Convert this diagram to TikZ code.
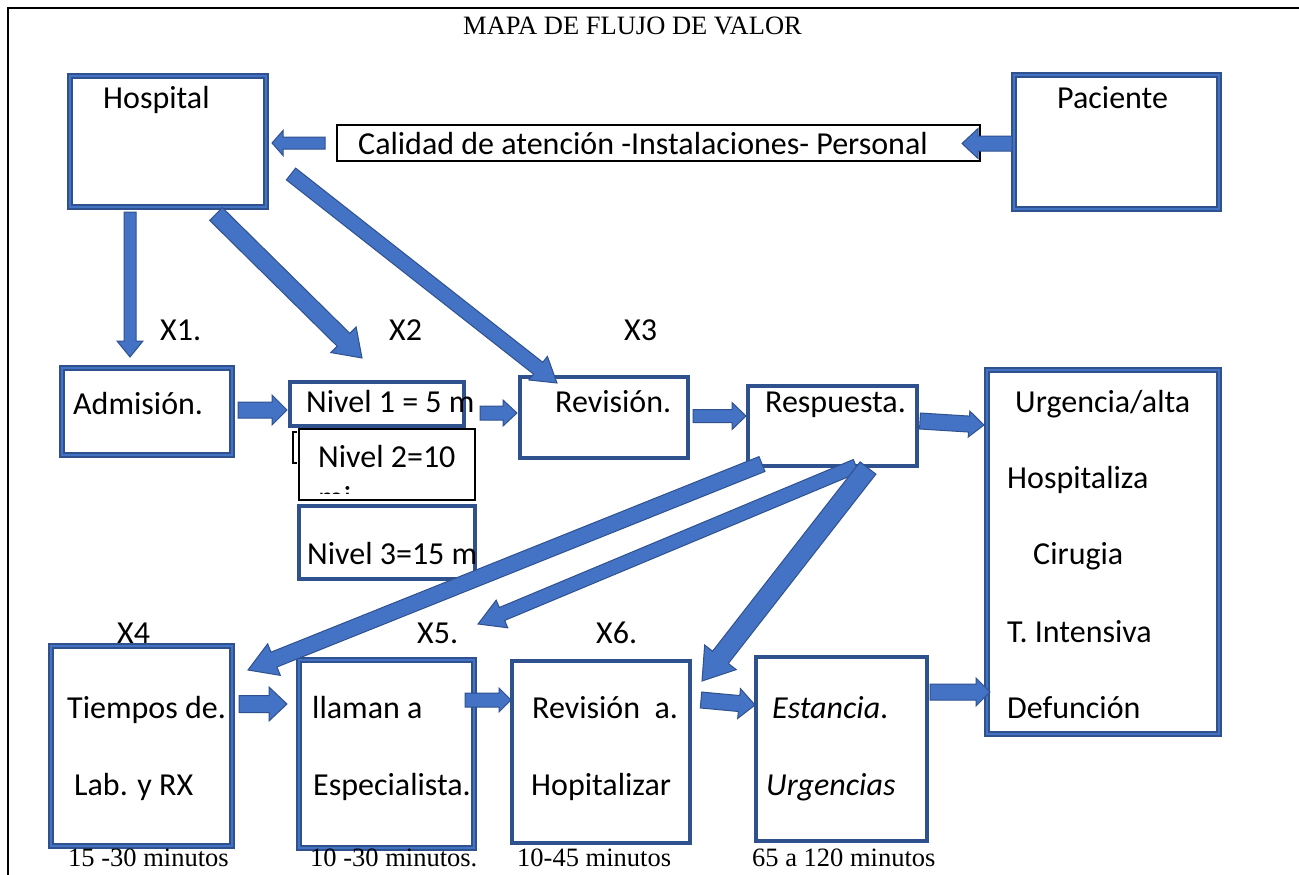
\documentclass[tikz,border=0pt]{standalone}
\usepackage{fontspec}
\setmainfont{Carlito}
\newfontfamily\tnr{Liberation Serif}
\usetikzlibrary{calc}
\definecolor{bdark}{HTML}{2F528F}
\definecolor{blight}{HTML}{4472C4}
\tikzset{
 dblbox/.style={draw=bdark, double=blight, line width=1.6pt, double distance=2.6pt, fill=white, inner sep=0pt, outer sep=0pt},
 solbox/.style={draw=bdark, line width=3.6pt, fill=white, inner sep=0pt, outer sep=0pt},
 blkbox/.style={draw=black, line width=1.5pt, fill=white, inner sep=0pt, outer sep=0pt},
 txt/.style={anchor=base west, inner sep=0pt, font=\fontsize{32}{38}\selectfont},
 ser/.style={anchor=base west, inner sep=0pt, font=\tnr\fontsize{26.5}{30}\selectfont},
 barrow/.style={draw=bdark, fill=blight, line width=1pt, line join=miter},
}
\newcommand\bx[6]{\node[#2, minimum width={(#5-#3-4)*1pt}, minimum height={(#6-#4-4)*1pt}] (#1) at ({(#3+#5)/2},{(#4+#6)/2}) {};}
\newcommand\blkarrow[5]{%
  \path ($(#2)!#5!(#1)$) coordinate (hb);
  \draw[barrow] ($(#1)!#3!90:(#2)$) -- ($(hb)!#3!90:(#2)$) -- ($(hb)!#4!90:(#2)$) -- (#2) -- ($(hb)!#4!-90:(#2)$) -- ($(hb)!#3!-90:(#2)$) -- ($(#1)!#3!-90:(#2)$) -- cycle;
}
\begin{document}
\begin{tikzpicture}[x=1pt,y=-1pt]
\useasboundingbox (0,0) rectangle (1299,875);
\fill[white] (0,0) rectangle (1299,875);
\draw[line width=2pt] (8,875) -- (8,8) -- (1299,8);
\node[ser] (title) at (463,35) {MAPA DE FLUJO DE VALOR};

% boxes
\bx{hosp}{dblbox}{68}{74}{268}{209}
\bx{pac}{dblbox}{1012}{73}{1221}{211}
\bx{cal}{blkbox}{335}{123}{982}{163}
\bx{adm}{dblbox}{60}{366}{234}{457}
\bx{niv1}{solbox}{288}{380}{466}{428}
\draw[line width=1.3pt] (297,432) -- (293,432) -- (293,463) -- (297,463);
\bx{niv2}{blkbox}{297}{427}{477}{502}
\bx{niv3}{solbox}{297}{504}{477}{581}
\bx{rev}{solbox}{518}{375}{690}{460}
\bx{resp}{solbox}{746}{384}{919}{468}
\bx{urg}{dblbox}{985}{368}{1221}{736}
\bx{tiem}{dblbox}{49}{644}{234}{848}
\bx{llam}{dblbox}{297}{658}{476}{850}
\bx{reva}{solbox}{510}{659}{692}{845}
\bx{est}{solbox}{754}{655}{929}{843}

% arrow end points
\coordinate (a1t) at (130,212);  \coordinate (a1h) at (130,357);
\coordinate (a2t) at (216,214);  \coordinate (a2h) at (362,358);
\coordinate (a3t) at (291,174);  \coordinate (a3h) at (557,383);
\coordinate (cht) at (325,143);  \coordinate (chh) at (272,143);
\coordinate (pct) at (1012,143.5); \coordinate (pch) at (962,143.5);
\coordinate (a4t) at (238,410);  \coordinate (a4h) at (287,410);
\coordinate (a5t) at (480,413);  \coordinate (a5h) at (517,413);
\coordinate (a6t) at (693,416);  \coordinate (a6h) at (746,416);
\coordinate (a7t) at (920,421);  \coordinate (a7h) at (984,425);
\coordinate (a8t) at (762,464);  \coordinate (a8h) at (248,670);
\coordinate (a9t) at (856,466);  \coordinate (a9h) at (478,624);
\coordinate (a10t) at (868,468); \coordinate (a10h) at (702,681);
\coordinate (a11t) at (239,704); \coordinate (a11h) at (287,704);
\coordinate (a12t) at (465,700); \coordinate (a12h) at (511,700);
\coordinate (a13t) at (701,700); \coordinate (a13h) at (755,705);
\coordinate (a14t) at (930,692); \coordinate (a14h) at (990,692);

\blkarrow{a1t}{a1h}{6pt}{13pt}{16pt}
\blkarrow{a2t}{a2h}{9pt}{18pt}{26pt}
\blkarrow{a3t}{a3h}{7.5pt}{15pt}{24pt}
\blkarrow{cht}{chh}{6pt}{12.5pt}{11pt}
\blkarrow{pct}{pch}{7.5pt}{15pt}{16pt}
\blkarrow{a4t}{a4h}{8pt}{15pt}{15pt}
\blkarrow{a5t}{a5h}{7pt}{13pt}{14pt}
\blkarrow{a6t}{a6h}{6.5pt}{13.5pt}{14pt}
\blkarrow{a7t}{a7h}{8pt}{13pt}{15pt}
\blkarrow{a8t}{a8h}{8pt}{17pt}{28pt}
\blkarrow{a9t}{a9h}{7pt}{15pt}{26pt}
\blkarrow{a10t}{a10h}{10pt}{20pt}{30pt}
\blkarrow{a11t}{a11h}{8.5pt}{17pt}{18pt}
\blkarrow{a12t}{a12h}{7pt}{12pt}{12pt}
\blkarrow{a13t}{a13h}{8pt}{15pt}{16pt}
\blkarrow{a14t}{a14h}{8pt}{14pt}{14pt}

% texts
\node[txt] (t1) at (103,108) {Hospital};
\node[txt] (t2) at (1057,108) {Paciente};
\node[txt] (t3) at (358,154) {Calidad de atención -Instalaciones- Personal};
\node[txt] (x1) at (160,340) {X1.};
\node[txt] (x2) at (389,340) {X2};
\node[txt] (x3) at (624,340) {X3};
\node[txt] (t4) at (73,414) {Admisión.};
\node[txt] (t5) at (306,412) {Nivel 1 = 5 m};
\node[txt] (t6) at (318,467) {Nivel 2=10};
\begin{scope}
\clip (298,428) rectangle (476,493);
\node[txt] (t6b) at (318,508) {mi};
\end{scope}
\node[txt] (t7) at (307,564) {Nivel 3=15 m};
\node[txt] (t8) at (555,412) {Revisión.};
\node[txt] (t9) at (765,412) {Respuesta.};
\node[txt] (u1) at (1015,412) {Urgencia/alta};
\node[txt] (u2) at (1007,488) {Hospitaliza};
\node[txt] (u3) at (1033,564) {Cirugia};
\node[txt] (u4) at (1007,642) {T. Intensiva};
\node[txt] (u5) at (1007,718) {Defunción};
\node[txt] (x4) at (117,643) {X4};
\node[txt] (x5) at (417,643) {X5.};
\node[txt] (x6) at (596,643) {X6.};
\node[txt] (b1) at (67,718) {Tiempos de.};
\node[txt] (b2) at (74,795) {Lab. y RX};
\node[txt] (b3) at (312,718) {llaman a};
\node[txt] (b4) at (313,795) {Especialista.};
\node[txt] (b5) at (532,718) {Revisión\ \ a.};
\node[txt] (b6) at (531,795) {Hopitalizar};
\node[txt] (b7) at (772,718) {\itshape Estancia\upshape .};
\node[txt] (b8) at (766,795) {\itshape Urgencias};
\node[ser] (m1) at (68,866) {15 -30 minutos};
\node[ser] (m2) at (310,866) {10 -30 minutos.};
\node[ser] (m3) at (517,866) {10-45 minutos};
\node[ser] (m4) at (752,866) {65 a 120 minutos};
\end{tikzpicture}
\end{document}
